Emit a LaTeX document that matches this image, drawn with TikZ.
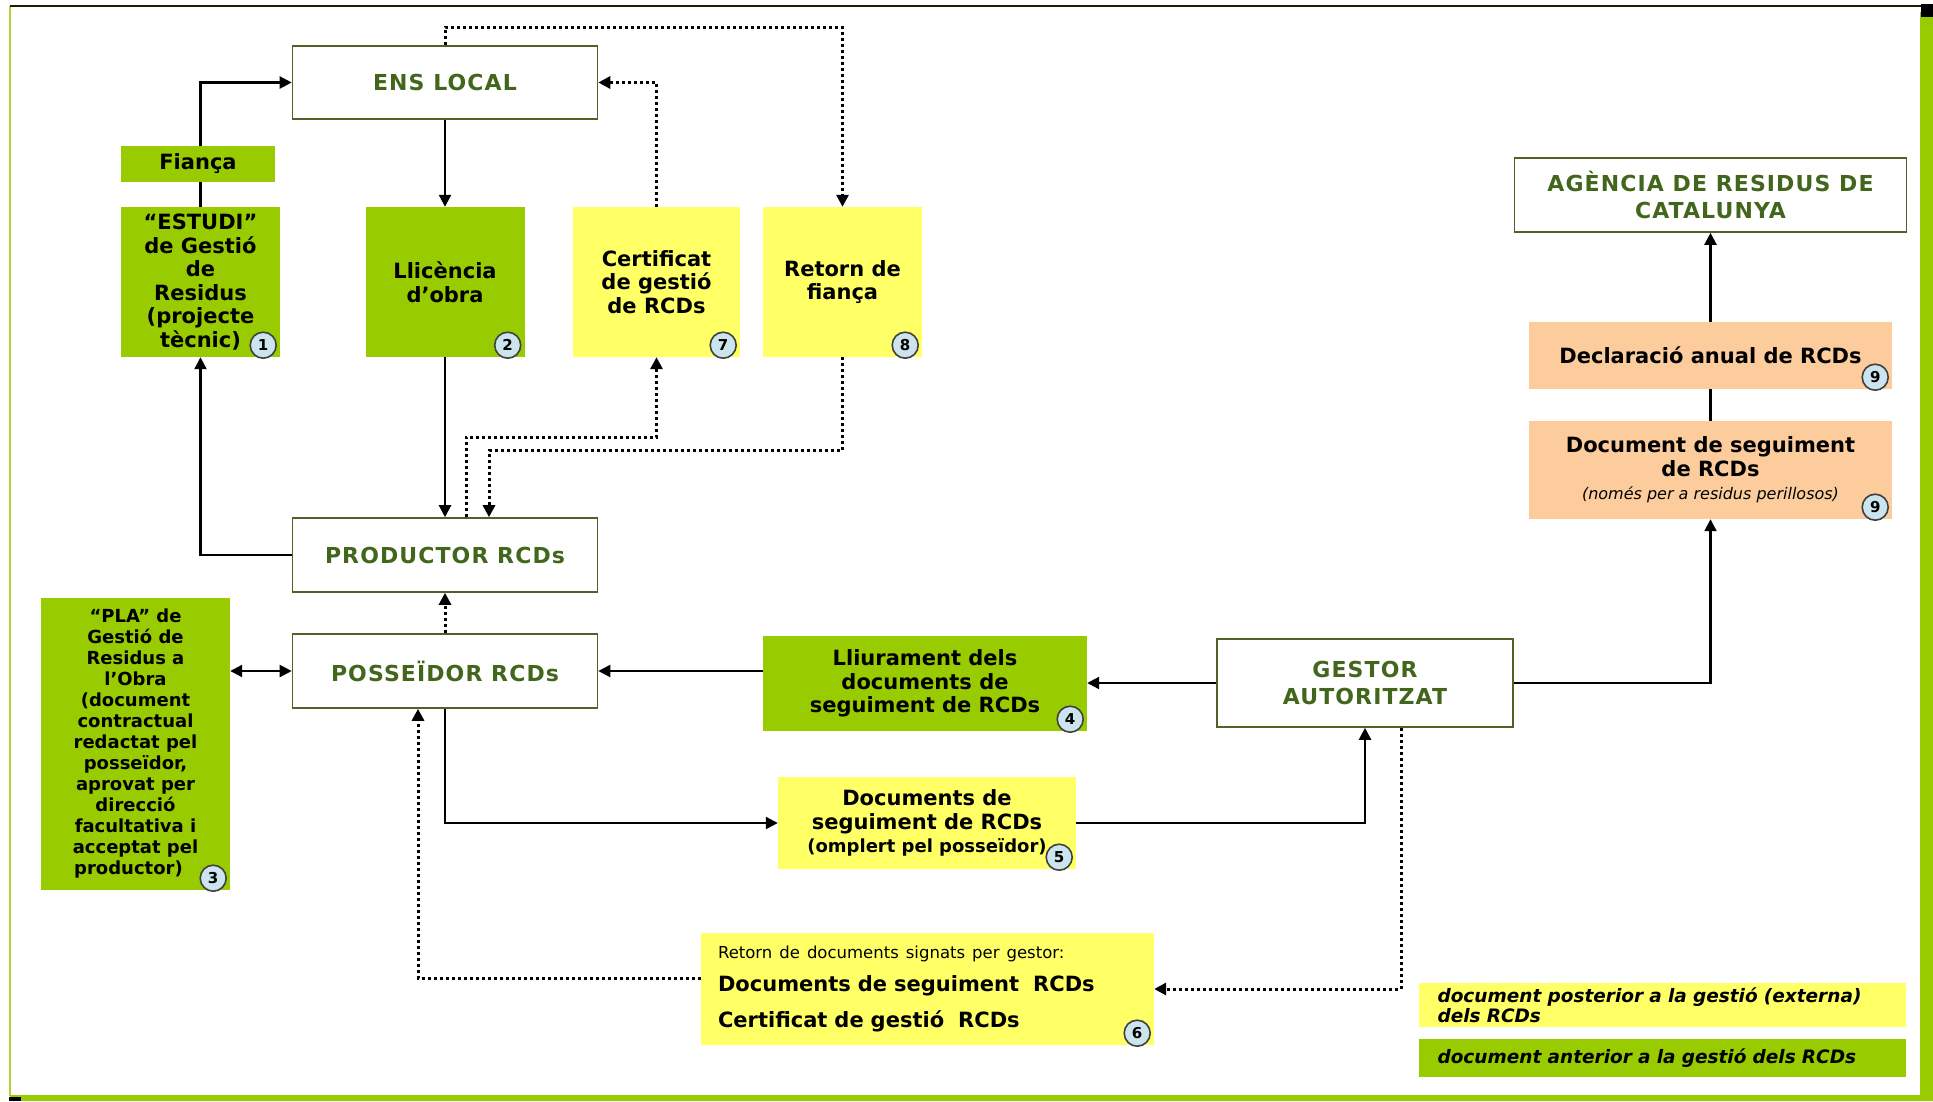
\documentclass[tikz,border=0pt]{standalone}
\usepackage{fontspec}
\setmainfont{DejaVu Sans}
\newfontfamily\titlefont[LetterSpace=5.0]{DejaVu Sans}
\usetikzlibrary{arrows.meta,positioning,calc}
\definecolor{leafgreen}{RGB}{153,204,0}
\definecolor{paleyellow}{RGB}{255,255,102}
\definecolor{peach}{RGB}{252,204,156}
\definecolor{olivedark}{RGB}{79,98,40}
\definecolor{titlegreen}{RGB}{66,102,28}
\definecolor{badgeblue}{RGB}{204,228,238}
\tikzset{>={Triangle[width=12pt 0,length=12pt 0]}}
\tikzset{
  actor/.style={draw=olivedark, line width=1.6pt, fill=white, text=titlegreen,
    font=\titlefont\bfseries\fontsize{22}{27}\selectfont, align=center, inner sep=0pt},
  docgreen/.style={fill=leafgreen, font=\bfseries\fontsize{21}{23.5}\selectfont,
    align=center, inner sep=0pt},
  docyellow/.style={docgreen, fill=paleyellow},
  docpeach/.style={docgreen, fill=peach},
  legendbox/.style={inner sep=0pt, text width=450pt, align=left,
    font=\bfseries\itshape\fontsize{18.5}{20}\selectfont},
  badge/.style={circle, draw=black!75, line width=1.6pt, fill=badgeblue, inner sep=0pt,
    minimum size=26pt, font=\bfseries\fontsize{15}{15}\selectfont},
  flow/.style={->, line width=2.2pt},
  dotflow/.style={->, line width=3pt, dash pattern=on 3pt off 3pt}
}
\newcommand{\badge}[2]{\node[badge] (#1num) at ($(#1.south east)+(-17,-12)$) {#2};}

\begin{document}
\begin{tikzpicture}[x=1pt,y=-1pt]
  % Page and frame
  \useasboundingbox (0,0) rectangle (1933,1101);
  \fill[white] (0,0) rectangle (1933,1101);
  \draw[line width=2pt, leafgreen!80] (10,6) -- (10,1096);
  \draw[line width=2.5pt, black!85!leafgreen] (10,6) -- (1922,6);
  \fill[leafgreen] (1920,12) rectangle (1933,1101);
  \fill[leafgreen] (10,1095) rectangle (1933,1101);
  \fill[black] (1921,4) rectangle (1933,17);
  \fill[black] (9,1097) rectangle (21,1101);

  % Actors
  \node[actor, minimum width=305pt, minimum height=73pt] (ens) at (445,82.5) {ENS LOCAL};
  \node[actor, minimum width=305pt, minimum height=74pt] (prod) at (445,555) {PRODUCTOR RCDs};
  \node[actor, minimum width=305pt, minimum height=74pt] (poss) at (445,671) {POSSEÏDOR RCDs};
  \node[actor, minimum width=296pt, minimum height=88pt] (gestor) at (1365,683) {GESTOR\\AUTORITZAT};
  \node[actor, minimum width=392pt, minimum height=74pt] (agencia) at (1710.5,195) {AGÈNCIA DE RESIDUS DE\\CATALUNYA};

  % Documents
  \node[docgreen, minimum width=159pt, minimum height=150pt] (estudi) at (200.5,282)
    {“ESTUDI”\\de Gestió\\de\\Residus\\(projecte\\tècnic)};
  \node[docgreen, minimum width=159pt, minimum height=150pt] (llic) at (445,282) {Llicència\\d’obra};
  \node[docyellow, minimum width=167pt, minimum height=150pt] (cert) at (656.5,282)
    {Certificat\\de gestió\\de RCDs};
  \node[docyellow, minimum width=159pt, minimum height=150pt] (ret8) at (842.5,282) {Retorn de\\fiança};
  \node[docgreen, minimum width=189pt, minimum height=292pt,
    font=\bfseries\fontsize{18}{21}\selectfont] (pla) at (135.5,744)
    {“PLA” de\\Gestió de\\Residus a\\l’Obra\\(document\\contractual\\redactat pel\\posseïdor,\\aprovat per\\direcció\\facultativa i\\acceptat pel\\productor)\hspace*{14pt}};
  \node[docgreen, minimum width=324pt, minimum height=95pt] (lliur) at (925,683.5)
    {Lliurament dels\\documents de\\seguiment de RCDs};
  \node[docyellow, minimum width=298pt, minimum height=92pt] (doc5) at (927,823)
    {Documents de\\seguiment de RCDs\\{\fontsize{18}{21}\selectfont(omplert pel posseïdor)}};
  \node[docyellow, minimum width=453pt, minimum height=112pt, text width=419pt, align=left] (ret6) at (927.5,989)
    {{\mdseries\fontsize{16.5}{20}\selectfont Retorn de documents signats per gestor:}\\[9pt]
     Documents de seguiment\ \ RCDs\\[13pt]Certificat de gestió\ \ RCDs};
  \node[docpeach, minimum width=363pt, minimum height=67pt] (decl) at (1710.5,355.5) {Declaració anual de RCDs};
  \node[docpeach, minimum width=363pt, minimum height=98pt] (docseg) at (1710.5,470)
    {Document de seguiment\\de RCDs\\{\mdseries\itshape\fontsize{16}{20}\selectfont (només per a residus perillosos)}};

  % Numbers
  \badge{estudi}{1}
  \badge{llic}{2}
  \badge{pla}{3}
  \badge{lliur}{4}
  \badge{doc5}{5}
  \badge{ret6}{6}
  \badge{cert}{7}
  \badge{ret8}{8}
  \badge{decl}{9}
  \badge{docseg}{9}

  % Links
  \draw[flow] (estudi.north) |- (ens.west);
  \node[docgreen, minimum width=154pt, minimum height=36pt] (fianca) at (198,164) {Fiança};
  \draw[flow] (ens.south) -- (llic.north);
  \draw[flow] (llic.south) -- (prod.north);
  \draw[dotflow] (ens.north) -- ++(0,-18) -| (ret8.north);
  \draw[dotflow] (cert.north) |- (ens.east);
  \draw[dotflow] ($(prod.north)+(21,0)$) |- ($(cert.south)+(0,80)$) -- (cert.south);
  \draw[dotflow] (ret8.south) -- ++(0,93) -| ($(prod.north)+(44,0)$);
  \draw[flow] (prod.west) -| (estudi.south);
  \draw[dotflow] (poss.north) -- (prod.south);
  \draw[flow, <->] (pla.east |- poss.west) -- (poss.west);
  \draw[flow] (lliur.west |- poss.east) -- (poss.east);
  \draw[flow] (gestor.west) -- (lliur.east |- gestor.west);
  \draw[flow] (poss.south) |- (doc5.west);
  \draw[flow] (doc5.east) -| (gestor.south);
  \draw[dotflow] ($(gestor.south)+(36,0)$) |- (ret6.east);
  \draw[dotflow] ($(ret6.west)+(0,-11)$) -| ($(poss.south)+(-27,0)$);
  \draw[flow] (gestor.east) -| (docseg.south);
  \draw[line width=2.2pt] (decl.south) -- (docseg.north);
  \draw[flow] (decl.north) -- (agencia.south);

  % Legend
  \node[legendbox, fill=paleyellow, minimum width=487pt, minimum height=44pt] (legpost) at (1662.5,1005)
    {document posterior a la gestió (externa)\\dels RCDs};
  \node[legendbox, fill=leafgreen, minimum width=487pt, minimum height=38pt] (legprev) at (1662.5,1058)
    {document anterior a la gestió dels RCDs};
\end{tikzpicture}
\end{document}
